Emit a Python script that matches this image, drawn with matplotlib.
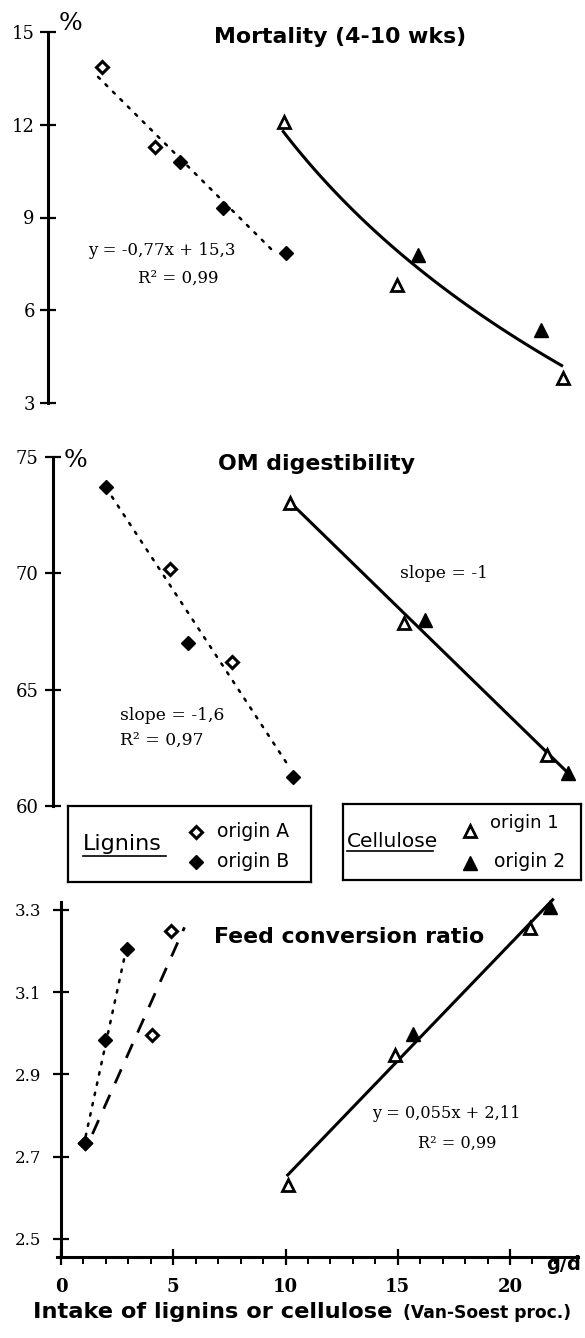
import numpy as np
import matplotlib
matplotlib.use("Agg")
import matplotlib.pyplot as plt

# ---------------- data ----------------
# Mortality (4-10 wks), %
mort_ligA_x = [1.84, 4.19]
mort_ligA_y = [13.87, 11.28]
mort_ligB_x = [5.3, 7.2, 10.0]
mort_ligB_y = [10.79, 9.30, 7.85]
mort_cel1_x = [9.93, 14.96, 22.36]
mort_cel1_y = [12.09, 6.81, 3.80]
mort_cel2_x = [15.9, 21.38]
mort_cel2_y = [7.78, 5.36]

# OM digestibility, %
dig_ligA_x = [4.86, 7.62]
dig_ligA_y = [70.19, 66.19]
dig_ligB_x = [2.0, 5.66, 10.33]
dig_ligB_y = [73.71, 67.0, 61.25]
dig_cel1_x = [10.2, 15.28, 21.65]
dig_cel1_y = [73.02, 67.87, 62.19]
dig_cel2_x = [16.2, 22.58]
dig_cel2_y = [67.99, 61.42]

# Feed conversion ratio
fcr_ligA_x = [1.07, 4.05, 4.9]
fcr_ligA_y = [2.733, 2.996, 3.249]
fcr_ligB_x = [1.07, 1.96, 2.94]
fcr_ligB_y = [2.733, 2.984, 3.205]
fcr_cel1_x = [10.11, 14.88, 20.89]
fcr_cel1_y = [2.631, 2.947, 3.256]
fcr_cel2_x = [15.68, 21.78]
fcr_cel2_y = [2.998, 3.307]

# trend-line x extents
mort_lig_span = [1.65, 9.6]
mort_cel_span = [9.9, 22.3]
dig_lig_span = [2.27, 10.1]
dig_cel_span = [10.2, 22.6]
fcr_ligA_span = [1.4, 5.5]
fcr_ligB_span = [1.1, 2.9]
fcr_cel_span = [10.1, 21.9]

mort_yticks = [3, 6, 9, 12, 15]
dig_yticks = [60, 65, 70, 75]
fcr_yticks = [2.5, 2.7, 2.9, 3.1, 3.3]
fcr_ytick_labels = ["2.5", "2.7", "2.9", "3.1", "3.3"]
x_major = [0, 5, 10, 15, 20]

# ---------------- layout helpers ----------------
W, H = 585, 1338
fig = plt.figure(figsize=(W / 100, H / 100), dpi=100)
PX0, PXU = 61.0, 22.45  # pixel of x=0, pixels per unit


def add_ax(l, t, r, b):
    ax = fig.add_axes([l / W, 1 - b / H, (r - l) / W, (b - t) / H])
    ax.set_xlim((l - PX0) / PXU, (r - PX0) / PXU)
    ax.patch.set_alpha(0)
    return ax


def ftxt(px, py, s, **kw):
    return fig.text(px / W, 1 - py / H, s, **kw)


SERIF = "DejaVu Serif"
SANS = "DejaVu Sans"

open_d = dict(marker="D", ms=6.3, mfc="white", mec="black", mew=2.2, ls="none", zorder=5)
fill_d = dict(marker="D", ms=7.2, color="black", ls="none", zorder=6)
open_t = dict(marker="^", ms=8.5, mfc="white", mec="black", mew=2.0, ls="none", zorder=5)
fill_t = dict(marker="^", ms=10.5, color="black", ls="none", zorder=6)
dotted = dict(color="black", lw=1.8, ls=(0, (1, 3.2)), dash_capstyle="round", zorder=3)
dashed = dict(color="black", lw=2.0, ls=(0, (5.5, 4.5)), zorder=3)
solid = dict(color="black", lw=2.2, zorder=3)


def style_left(ax, ticks, labels=None, size=13, ticklen=11, pad=6):
    for s in ["top", "right", "bottom"]:
        ax.spines[s].set_visible(False)
    ax.spines["left"].set_linewidth(2.2)
    ax.set_yticks(ticks)
    if labels is not None:
        ax.set_yticklabels(labels)
    ax.tick_params(axis="y", direction="inout", length=ticklen, width=1.6,
                   labelsize=size, pad=pad)
    for lab in ax.get_yticklabels():
        lab.set_fontfamily(SERIF)
    ax.set_xticks([])


def linfit_line(ax, xs, ys, span, **kw):
    k, b = np.polyfit(xs, ys, 1)
    xx = np.array(span)
    ax.plot(xx, k * xx + b, **kw)


# ---------------- Panel 1: Mortality ----------------
ax1 = add_ax(48, 32, 580, 403)
ax1.set_ylim(3, 15)
style_left(ax1, mort_yticks, size=13, ticklen=11, pad=4)
linfit_line(ax1, mort_ligA_x + mort_ligB_x, mort_ligA_y + mort_ligB_y, mort_lig_span, **dotted)
cx = np.array(mort_cel1_x + mort_cel2_x)
cy = np.array(mort_cel1_y + mort_cel2_y)
kb = np.polyfit(np.log(cx), cy, 1)
xx = np.linspace(mort_cel_span[0], mort_cel_span[1], 60)
ax1.plot(xx, kb[0] * np.log(xx) + kb[1], **solid)
ax1.plot(mort_ligA_x, mort_ligA_y, **open_d)
ax1.plot(mort_ligB_x, mort_ligB_y, **fill_d)
ax1.plot(mort_cel1_x, mort_cel1_y, **open_t)
ax1.plot(mort_cel2_x, mort_cel2_y, **fill_t)
for l in ax1.lines:
    l.set_clip_on(False)

ftxt(59, 30, "%", family=SERIF, fontsize=18, va="baseline", ha="left")
ftxt(340, 43, "Mortality (4-10 wks)", family=SANS, weight="bold", fontsize=15.8,
     ha="center", va="baseline")
ftxt(88, 255, "y = -0,77x + 15,3", family=SERIF, fontsize=12, va="baseline")
ftxt(138, 283, "R² = 0,99", family=SERIF, fontsize=12, va="baseline")

# ---------------- Panel 2: OM digestibility ----------------
ax2 = add_ax(53, 457, 585, 806)
ax2.set_ylim(60, 75)
style_left(ax2, dig_yticks, size=13, ticklen=11, pad=5)
linfit_line(ax2, dig_ligA_x + dig_ligB_x, dig_ligA_y + dig_ligB_y, dig_lig_span, **dotted)
linfit_line(ax2, dig_cel1_x + dig_cel2_x, dig_cel1_y + dig_cel2_y, dig_cel_span, **solid)
ax2.plot(dig_ligA_x, dig_ligA_y, **open_d)
ax2.plot(dig_ligB_x, dig_ligB_y, **fill_d)
ax2.plot(dig_cel1_x, dig_cel1_y, **open_t)
ax2.plot(dig_cel2_x, dig_cel2_y, **fill_t)
for l in ax2.lines:
    l.set_clip_on(False)

ftxt(64, 467, "%", family=SERIF, fontsize=18, va="baseline", ha="left")
ftxt(316, 470, "OM digestibility", family=SANS, weight="bold", fontsize=15.8,
     ha="center", va="baseline")
ftxt(120, 720, "slope = -1,6", family=SERIF, fontsize=12.3, va="baseline")
ftxt(120, 745, "R² = 0,97", family=SERIF, fontsize=12.3, va="baseline")
ftxt(400, 578, "slope = -1", family=SERIF, fontsize=12.3, va="baseline")

# ---------------- Legend boxes ----------------
def box(l, t, r, b):
    a = fig.add_axes([l / W, 1 - b / H, (r - l) / W, (b - t) / H])
    a.set_xlim(l, r)
    a.set_ylim(b, t)
    a.set_xticks([])
    a.set_yticks([])
    for s in a.spines.values():
        s.set_linewidth(1.6)
    return a

lb = box(68, 806, 311, 882)
lb.text(83, 850, "Lignins", family=SANS, fontsize=16, va="baseline")
lb.plot([83, 166], [856, 856], color="black", lw=1.2)
lb.plot([196], [832], **open_d)
lb.plot([196], [862], **fill_d)
lb.text(217, 837, "origin A", family=SANS, fontsize=13.5, va="baseline")
lb.text(217, 867, "origin B", family=SANS, fontsize=13.5, va="baseline")

cb = box(343, 804, 581, 880)
cb.text(347, 847, "Cellulose", family=SANS, fontsize=14.5, va="baseline")
cb.plot([347, 433], [851, 851], color="black", lw=1.2)
cb.plot([470], [831], **open_t)
cb.plot([470], [863], **fill_t)
cb.text(490, 828, "origin 1", family=SANS, fontsize=13, va="baseline")
cb.text(494, 867, "origin 2", family=SANS, fontsize=13.5, va="baseline")

# ---------------- Panel 3: Feed conversion ratio ----------------
ax3 = add_ax(57, 902, 578, 1257)
ax3.set_ylim(2.456, 3.319)
for s in ["top", "right"]:
    ax3.spines[s].set_visible(False)
ax3.spines["left"].set_position(("data", 0))
ax3.spines["left"].set_linewidth(2.2)
ax3.spines["bottom"].set_linewidth(2.2)
ax3.set_yticks(fcr_yticks)
ax3.set_yticklabels(fcr_ytick_labels)
ax3.tick_params(axis="y", direction="inout", length=12, width=1.6, labelsize=12, pad=8)
for lab in ax3.get_yticklabels():
    lab.set_fontfamily(SERIF)
ax3.set_xticks(x_major)
ax3.set_xticks(np.arange(1, 23), minor=True)
ax3.tick_params(axis="x", which="major", direction="inout", length=12, width=1.6,
                labelsize=13, pad=9)
ax3.tick_params(axis="x", which="minor", direction="out", length=5, width=1.4)
for lab in ax3.get_xticklabels():
    lab.set_fontfamily(SERIF)
    lab.set_fontweight("bold")

linfit_line(ax3, fcr_ligB_x, fcr_ligB_y, fcr_ligB_span, **dotted)
linfit_line(ax3, fcr_ligA_x, fcr_ligA_y, fcr_ligA_span, **dashed)
linfit_line(ax3, fcr_cel1_x + fcr_cel2_x, fcr_cel1_y + fcr_cel2_y, fcr_cel_span, **solid)
ax3.plot(fcr_ligA_x, fcr_ligA_y, **open_d)
ax3.plot(fcr_ligB_x, fcr_ligB_y, **fill_d)
ax3.plot(fcr_cel1_x, fcr_cel1_y, **open_t)
ax3.plot(fcr_cel2_x, fcr_cel2_y, **fill_t)
for l in ax3.lines:
    l.set_clip_on(False)

ftxt(349, 943, "Feed conversion ratio", family=SANS, weight="bold", fontsize=15.8,
     ha="center", va="baseline")
ftxt(372, 1118, "y = 0,055x + 2,11", family=SERIF, fontsize=11.6, va="baseline")
ftxt(418, 1148, "R² = 0,99", family=SERIF, fontsize=11.6, va="baseline")

ftxt(546, 1270, "g/d", family=SANS, weight="bold", fontsize=14, va="baseline")
ftxt(33, 1318, "Intake of lignins or cellulose", family=SANS, weight="bold",
     fontsize=16.2, va="baseline")
ftxt(403, 1318, "(Van-Soest proc.)", family=SANS, weight="bold", fontsize=12.3,
     va="baseline")

fig.savefig("out.png", dpi=100)
